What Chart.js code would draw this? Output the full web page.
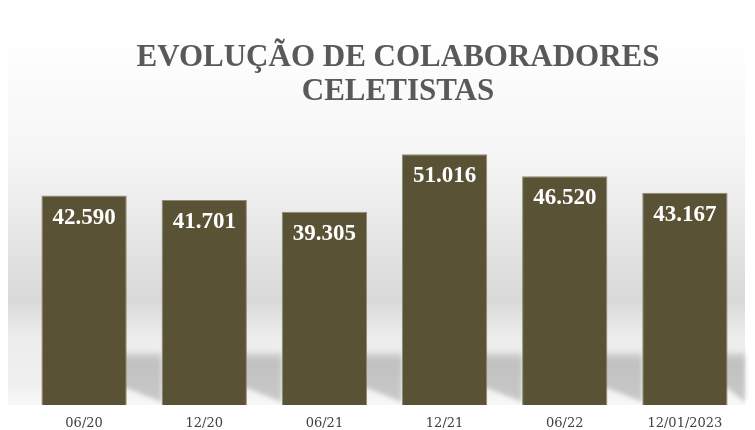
<!DOCTYPE html>
<html>
<head>
<meta charset="utf-8">
<script src="https://cdn.jsdelivr.net/npm/chart.js@4/dist/chart.umd.min.js"></script>
<style>
  html, body { margin:0; padding:0; background:#ffffff; }
  #wrap { width:755px; height:430px; }
  canvas { display:block; }
</style>
</head>
<body>
<div id="wrap"><canvas id="chart" width="755" height="430"></canvas></div>
<script>
const titulo = ['EVOLUÇÃO DE COLABORADORES', 'CELETISTAS'];
const periodos = ['06/20', '12/20', '06/21', '12/21', '06/22', '12/01/2023'];
const colaboradores = [42590, 41701, 39305, 51016, 46520, 43167];
const eixoMax = 60000;

const fmtNum = v => v.toLocaleString('pt-BR');

// painel cinza com sombra "de chão" atrás das barras
const fundoPainel = {
  id: 'fundoPainel',
  beforeDraw(chart) {
    const { ctx, chartArea: a } = chart;
    const topo = 45, x0 = 8;
    ctx.save();
    ctx.fillStyle = '#ffffff';
    ctx.fillRect(0, 0, chart.width, chart.height);
    const g = ctx.createLinearGradient(0, topo, 0, a.bottom);
    const h = a.bottom - topo;
    const st = y => Math.min(1, Math.max(0, (y - topo) / h));
    g.addColorStop(0, '#fefefe');
    g.addColorStop(st(160), '#f5f5f5');
    g.addColorStop(st(300), '#d9d9d9');
    g.addColorStop(st(335), '#ececec');
    g.addColorStop(st(385), '#f0f0f0');
    g.addColorStop(1, '#f8f8f8');
    ctx.fillStyle = g;
    ctx.fillRect(x0, topo, a.right - x0, h);

    const bars = chart.getDatasetMeta(0).data;
    ctx.filter = 'blur(2px)';
    bars.forEach((b, i) => {
      const esq = b.x - b.width / 2 + 4, dir = b.x + b.width / 2;
      const prox = i < bars.length - 1 ? bars[i + 1].x - bars[i + 1].width / 2 : a.right;
      const sg = ctx.createLinearGradient(0, 350, 0, a.bottom);
      sg.addColorStop(0, '#e2e2e2');
      sg.addColorStop(0.2, '#c1c1c1');
      sg.addColorStop(1, '#c9c9c9');
      ctx.fillStyle = sg;
      ctx.beginPath();
      ctx.moveTo(esq, 352);
      ctx.lineTo(prox, 352);
      ctx.lineTo(prox, a.bottom - 3);
      ctx.lineTo(dir, a.bottom - 17);
      ctx.lineTo(esq, a.bottom - 17);
      ctx.closePath();
      ctx.fill();
    });
    ctx.filter = 'none';

    // título (um pouco deslocado à direita, como no original)
    ctx.fillStyle = '#595959';
    ctx.font = 'bold 31px "Liberation Serif", "Times New Roman", serif';
    ctx.textAlign = 'center';
    ctx.textBaseline = 'middle';
    titulo.forEach((linha, i) => ctx.fillText(linha, 398, 58 + i * 34));
    ctx.restore();
  }
};

const rotulosBarras = {
  id: 'rotulosBarras',
  afterDatasetsDraw(chart) {
    const { ctx } = chart;
    ctx.save();
    ctx.fillStyle = '#ffffff';
    ctx.font = 'bold 23px "Liberation Serif", "Times New Roman", serif';
    ctx.textAlign = 'center';
    ctx.textBaseline = 'middle';
    chart.getDatasetMeta(0).data.forEach((b, i) => {
      ctx.fillText(fmtNum(colaboradores[i]), b.x, b.y + 22);
    });
    ctx.restore();
  }
};

new Chart(document.getElementById('chart'), {
  type: 'bar',
  data: {
    labels: periodos,
    datasets: [{
      data: colaboradores,
      backgroundColor: '#5a5234',
      borderColor: '#8f8a72',
      borderWidth: 1,
      categoryPercentage: 1,
      barPercentage: 0.71,
    }],
  },
  options: {
    responsive: false,
    animation: false,
    layout: { padding: { left: 24, right: 10, top: 110, bottom: 0 } },
    plugins: {
      legend: { display: false },
      tooltip: { enabled: false },
      title: { display: false },
    },
    scales: {
      x: {
        grid: { display: false, drawTicks: false },
        border: { display: false },
        afterFit: s => { s.height = 25; },
        ticks: {
          color: '#404040',
          padding: 11,
          font: { family: '"DejaVu Serif", serif', size: 13 },
          maxRotation: 0,
          autoSkip: false,
        },
      },
      y: { display: false, min: 0, max: eixoMax },
    },
  },
  plugins: [fundoPainel, rotulosBarras],
});
</script>
</body>
</html>
